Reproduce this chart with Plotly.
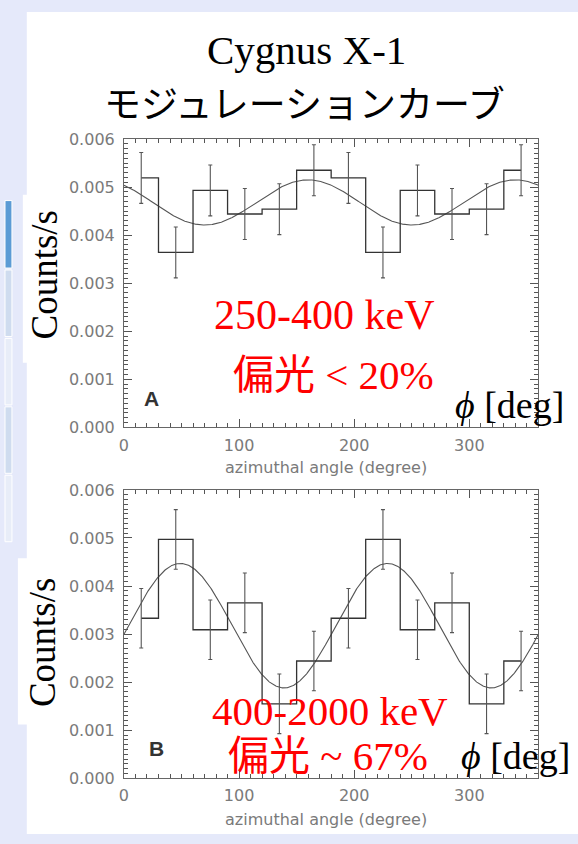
import numpy as np
import plotly.graph_objects as go

W, H = 578, 844

# ---- data -------------------------------------------------------------
angle_deg = [15, 45, 75, 105, 135, 165, 195, 225, 255, 285, 315, 345]

rate_a = [0.00519, 0.00364, 0.00493, 0.00444, 0.00454, 0.00535,
          0.00519, 0.00364, 0.00493, 0.00444, 0.00454, 0.00535]
err_a = [0.00053] * 12

rate_b = [0.00333, 0.00497, 0.00309, 0.00365, 0.00155, 0.00244,
          0.00333, 0.00497, 0.00309, 0.00365, 0.00155, 0.00244]
err_b = [0.00062] * 12

# modulation fit: mean + amp * cos(2 (phi - phi0))
fit_a = dict(mean=0.00468, amp=0.00047, phi0=160.0)
fit_b = dict(mean=0.003175, amp=0.001295, phi0=49.0)

y_ticks = [0.000, 0.001, 0.002, 0.003, 0.004, 0.005, 0.006]
x_ticks = [0, 100, 200, 300]
x_minor_step = 10
y_minor_step = 0.0001


def px(x):
    return x / W


def py(y):
    return 1 - y / H


def fit_curve(p):
    phi = np.linspace(0, 360, 721)
    return phi, p["mean"] + p["amp"] * np.cos(np.radians(2 * (phi - p["phi0"])))


fig = go.Figure()

panels = [
    ("x", "y", rate_a, err_a, fit_a),
    ("x2", "y2", rate_b, err_b, fit_b),
]
for xa, ya, rate, err, fit in panels:
    fx, fy = fit_curve(fit)
    fig.add_trace(go.Scatter(x=fx, y=fy, mode="lines", xaxis=xa, yaxis=ya,
                             line=dict(color="#555555", width=1.1),
                             showlegend=False, hoverinfo="skip"))
    fig.add_trace(go.Scatter(x=angle_deg, y=rate, mode="lines", xaxis=xa, yaxis=ya,
                             line=dict(color="#333333", width=1.3, shape="hvh"),
                             showlegend=False))
    fig.add_trace(go.Scatter(x=angle_deg, y=rate, mode="markers", xaxis=xa, yaxis=ya,
                             marker=dict(size=0.1, color="rgba(0,0,0,0)"),
                             error_y=dict(type="data", array=err, color="#555555",
                                          thickness=1.1, width=2),
                             showlegend=False))

tickfont = dict(family="DejaVu Sans", size=16, color="#7a7a7a")
axis_common = dict(
    showline=True, linecolor="#666666", linewidth=1, mirror="allticks",
    ticks="inside", ticklen=8, tickcolor="#555555", tickwidth=1,
    showgrid=False, zeroline=False, tickfont=tickfont,
)
xdom = [px(120), px(538)]
ydom_a = [py(428), py(133)]
ydom_b = [py(787), py(492)]

x_minor = [v for v in range(0, 361, x_minor_step) if v not in x_ticks]
y_minor = [round(i * y_minor_step, 6) for i in range(0, 61) if i % 10]

# major axes with labels
for name, anchor in [("xaxis", "y"), ("xaxis2", "y2")]:
    fig.layout[name] = dict(axis_common, domain=xdom, anchor=anchor, range=[0, 360],
                            tickvals=x_ticks, ticklabelstandoff=3)
for name, dom, anchor in [("yaxis", ydom_a, "x"), ("yaxis2", ydom_b, "x2")]:
    fig.layout[name] = dict(axis_common, domain=dom, anchor=anchor, range=[0, 0.006],
                            tickvals=y_ticks, tickformat=".3f", ticklabelstandoff=5)

# overlaid axes carrying the short minor ticks on all four sides
minor_common = dict(showline=False, mirror="allticks", ticks="inside", ticklen=4,
                    tickcolor="#555555", tickwidth=1, showgrid=False, zeroline=False,
                    showticklabels=False)
for name, over, anchor in [("xaxis3", "x", "y"), ("xaxis4", "x2", "y2")]:
    fig.layout[name] = dict(minor_common, domain=xdom, anchor=anchor, overlaying=over,
                            range=[0, 360], tickvals=x_minor)
for name, over, dom, anchor in [("yaxis3", "y", ydom_a, "x"), ("yaxis4", "y2", ydom_b, "x2")]:
    fig.layout[name] = dict(minor_common, domain=dom, anchor=anchor, overlaying=over,
                            range=[0, 0.006], tickvals=y_minor)

# empty traces so the overlay axes are laid out
for xa, ya in [("x3", "y3"), ("x4", "y4")]:
    fig.add_trace(go.Scatter(x=[None], y=[None], xaxis=xa, yaxis=ya,
                             showlegend=False, hoverinfo="skip"))

# ---- slide background --------------------------------------------------
shapes = [
    dict(type="rect", xref="paper", yref="paper", x0=px(22), x1=1, y0=0, y1=py(3),
         fillcolor="white", line_width=0, layer="below"),
    dict(type="rect", xref="paper", yref="paper", x0=px(18), x1=px(23), y0=py(362), y1=py(190),
         fillcolor="white", line_width=0, layer="below"),
    dict(type="rect", xref="paper", yref="paper", x0=px(13), x1=px(23), y0=py(732), y1=py(562),
         fillcolor="white", line_width=0, layer="below"),
]
side_tabs = [(196, 265, "#5b9bd5"), (267, 335, "#cfdcef"), (337, 405, "#e8edf8"),
             (407, 475, "#cfdcef"), (477, 545, "#e8edf8")]
for y0, y1, c in side_tabs:
    shapes.append(dict(type="rect", xref="paper", yref="paper", x0=0, x1=px(7),
                       y0=py(y1), y1=py(y0), fillcolor=c,
                       line=dict(color="white", width=1), layer="below"))

serif = "Liberation Serif, Noto Sans CJK JP"
gothic = "Noto Sans CJK JP"


def note(x, y, text, size, color="black", family=serif, angle=0):
    return dict(x=px(x), y=py(y), xref="paper", yref="paper", text=text,
                showarrow=False, xanchor="center", yanchor="middle",
                textangle=angle, font=dict(family=family, size=size, color=color))


annotations = [
    note(304, 42, "Cygnus X-1", 41),
    note(302, 95, "モジュレーションカーブ", 37, family=gothic),
    note(40, 272, "Counts/s", 37, angle=-90),
    note(38, 648, "Counts/s", 37, angle=-90),
    note(322, 313, "250-400 keV", 42, color="#ff0000"),
    note(331, 374, "偏光 &lt; 20%", 41, color="#ff0000"),
    note(328, 718, "400-2000 keV", 41, color="#ff0000"),
    note(326, 764, "偏光 ~ 67%", 41, color="#ff0000"),
    note(509, 405, "<i>ϕ</i> [deg]", 38),
    note(515, 764, "<i>ϕ</i> [deg]", 38),
    note(148, 398, "<b>A</b>", 21, color="#333333", family="Liberation Sans"),
    note(153, 757, "<b>B</b>", 21, color="#333333", family="Liberation Sans"),
    note(324, 469, "azimuthal angle (degree)", 16, color="#7a7a7a", family="DejaVu Sans"),
    note(324, 829, "azimuthal angle (degree)", 16, color="#7a7a7a", family="DejaVu Sans"),
]

fig.update_layout(
    width=W, height=H, margin=dict(l=0, r=0, t=0, b=0),
    paper_bgcolor="#e5e9fa", plot_bgcolor="rgba(0,0,0,0)",
    shapes=shapes, annotations=annotations, showlegend=False,
)

fig.write_html("out.html")
